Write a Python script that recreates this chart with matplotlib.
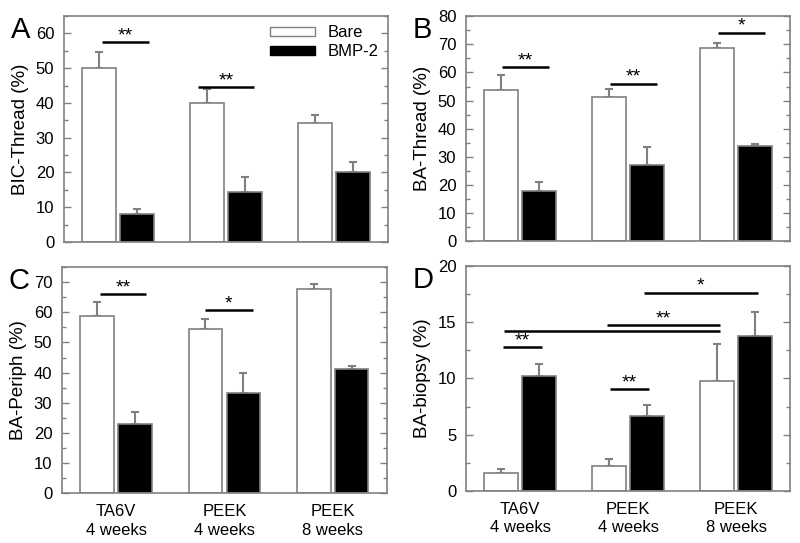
import matplotlib.pyplot as plt
from matplotlib.patches import Patch
from matplotlib.ticker import MultipleLocator, AutoMinorLocator

plt.rcParams['font.family'] = ['Liberation Sans', 'DejaVu Sans']

groups = ['TA6V\n4 weeks', 'PEEK\n4 weeks', 'PEEK\n8 weeks']

# panel A: BIC-Thread
a_bare = [50.0, 40.0, 34.3]
a_bare_err = [4.7, 4.0, 2.2]
a_bmp = [8.0, 14.5, 20.2]
a_bmp_err = [1.6, 4.3, 2.7]
a_sig = [(-0.15, 0.29, 57.4, '**'), (0.74, 1.26, 44.5, '**')]

# panel B: BA-Thread
b_bare = [53.8, 51.3, 68.7]
b_bare_err = [5.3, 2.8, 1.7]
b_bmp = [17.7, 27.1, 33.9]
b_bmp_err = [3.3, 6.5, 0.7]
b_sig = [(-0.17, 0.27, 61.8, '**'), (0.83, 1.27, 55.9, '**'), (1.83, 2.27, 74.1, '*')]

# panel C: BA-Periph
c_bare = [58.7, 54.6, 67.6]
c_bare_err = [4.8, 3.2, 1.7]
c_bmp = [22.8, 33.1, 41.2]
c_bmp_err = [4.0, 6.8, 1.0]
c_sig = [(-0.15, 0.28, 66.0, '**'), (0.82, 1.26, 60.7, '*')]

# panel D: BA-biopsy
d_bare = [1.54, 2.23, 9.73]
d_bare_err = [0.39, 0.56, 3.37]
d_bmp = [10.18, 6.68, 13.77]
d_bmp_err = [1.1, 0.98, 2.16]
d_sig = [(-0.16, 0.20, 12.76, '**'), (0.83, 1.19, 9.05, '**'),
         (-0.15, 1.85, 14.24, ''), (0.81, 1.85, 14.72, '**'), (1.15, 2.20, 17.63, '*')]

GREY = '#808080'
W = 0.31
OFF = 0.175


def draw_panel(ax, bare, bare_err, bmp, bmp_err, sig, ylim, ystep, ylabel, letter, xlabels):
    x = range(len(bare))
    xb = [i - OFF for i in x]
    xk = [i + OFF for i in x]
    ax.bar(xb, bare, W, color='white', edgecolor=GREY, linewidth=1.2, zorder=2)
    ax.bar(xk, bmp, W, color='black', edgecolor=GREY, linewidth=1.2, zorder=2)
    ax.errorbar(xb, bare, yerr=[[0] * 3, bare_err], fmt='none', ecolor=GREY,
                elinewidth=1.5, capsize=3, capthick=1.5, zorder=1)
    ax.errorbar(xk, bmp, yerr=[[0] * 3, bmp_err], fmt='none', ecolor=GREY,
                elinewidth=1.5, capsize=3, capthick=1.5, zorder=1)
    for x0, x1, y, s in sig:
        ax.plot([x0, x1], [y, y], color='black', lw=1.8, solid_capstyle='butt')
        if s:
            # stars sit just above the line
            ax.annotate(s, ((x0 + x1) / 2, y), xytext=(0, 1.5), textcoords='offset points',
                        ha='center', va='baseline', fontsize=14)
    ax.set_xlim(-0.5, 2.5)
    ax.set_ylim(0, ylim)
    ax.yaxis.set_major_locator(MultipleLocator(ystep))
    ax.yaxis.set_minor_locator(AutoMinorLocator(2))
    ax.tick_params(axis='y', which='both', direction='in', right=True, colors=GREY,
                   labelcolor='black', labelsize=12, pad=7)
    ax.tick_params(axis='y', which='major', length=5, width=1)
    ax.tick_params(axis='y', which='minor', length=3, width=1)
    ax.tick_params(axis='x', length=0, labelsize=12, pad=8)
    ax.set_xticks(list(x))
    if xlabels:
        ax.set_xticklabels(groups, linespacing=1.3)
    else:
        ax.set_xticklabels([])
    for sp in ax.spines.values():
        sp.set_color(GREY)
        sp.set_linewidth(1.2)
    ax.set_ylabel(ylabel, fontsize=13.5, labelpad=5)
    ax.text(-0.165, 1.0, letter, transform=ax.transAxes, fontsize=21, ha='left', va='top')


fig = plt.figure(figsize=(8, 5.43), dpi=100)
axA = fig.add_axes([0.080, 0.5543, 0.405, 0.4162])
axB = fig.add_axes([0.5825, 0.5560, 0.405, 0.4140])
axC = fig.add_axes([0.0775, 0.0920, 0.406, 0.4160])
axD = fig.add_axes([0.5825, 0.0963, 0.405, 0.4135])

draw_panel(axA, a_bare, a_bare_err, a_bmp, a_bmp_err, a_sig, 65, 10, 'BIC-Thread (%)', 'A', False)
draw_panel(axB, b_bare, b_bare_err, b_bmp, b_bmp_err, b_sig, 80, 10, 'BA-Thread (%)', 'B', False)
draw_panel(axC, c_bare, c_bare_err, c_bmp, c_bmp_err, c_sig, 75, 10, 'BA-Periph (%)', 'C', True)
draw_panel(axD, d_bare, d_bare_err, d_bmp, d_bmp_err, d_sig, 20, 5, 'BA-biopsy (%)', 'D', True)

handles = [Patch(facecolor='white', edgecolor=GREY, label='Bare'),
           Patch(facecolor='black', edgecolor='black', label='BMP-2')]
axA.legend(handles=handles, loc='upper right', frameon=False, fontsize=12,
           handlelength=2.7, handleheight=0.45, handletextpad=0.8,
           borderaxespad=0.15, labelspacing=0.25)

plt.savefig('out.png', dpi=100)
